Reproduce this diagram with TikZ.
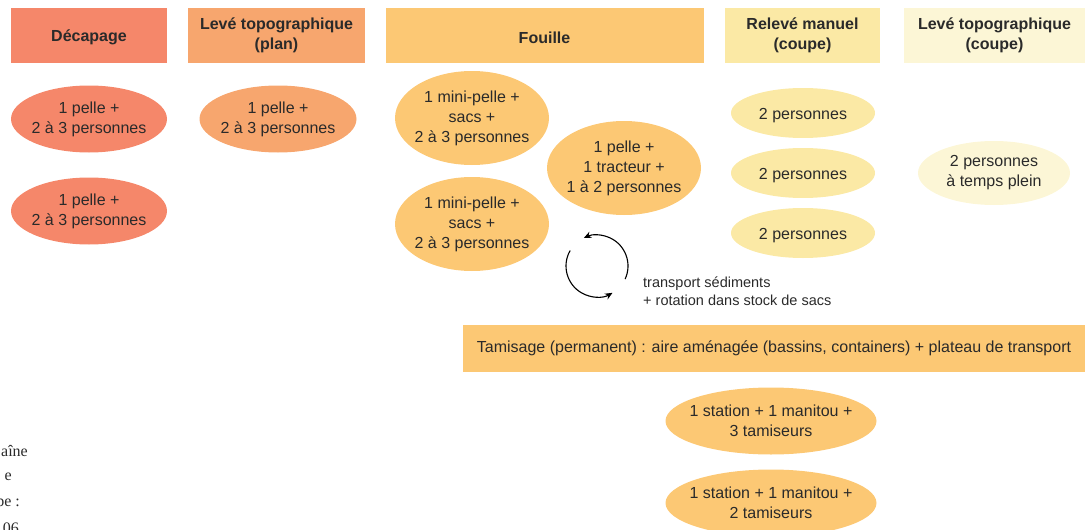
\documentclass[tikz,border=0pt]{standalone}
\usepackage{fontspec}
\setmainfont{Liberation Sans}
\newfontfamily\serifface{Liberation Serif}
\usetikzlibrary{arrows.meta,shapes.geometric}
\definecolor{cDec}{HTML}{F5876A}
\definecolor{cPlan}{HTML}{F7A66E}
\definecolor{cFou}{HTML}{FCC874}
\definecolor{cRel}{HTML}{FBE9A5}
\definecolor{cCou}{HTML}{FCF6D6}
\definecolor{ink}{HTML}{2A2A2A}
\tikzset{
  lower/.style={execute at begin node={\rule{0pt}{16pt}}},
  hdr/.style={rectangle, inner sep=0pt, align=center, text=ink, lower,
    font=\fontsize{16}{20}\selectfont\bfseries, minimum height=55pt},
  ell/.style={ellipse, inner xsep=-30pt, inner ysep=-15pt, align=center, text=ink, lower,
    font=\fontsize{16}{20}\selectfont},
  bar/.style={rectangle, inner sep=0pt, text=ink, font=\fontsize{16}{20}\selectfont},
  note/.style={align=left, inner sep=0pt, text=ink, font=\fontsize{14.5}{18}\selectfont},
  frag/.style={inner sep=0pt, text=ink, font=\serifface\fontsize{16}{20}\selectfont},
  cyc/.style={line width=1.1pt, draw=black, -{Stealth[length=7.5pt,width=6.5pt]}}
}
\begin{document}
\begin{tikzpicture}[x=1pt,y=-1pt]
\useasboundingbox (0,0) rectangle (1085,530);
% headers
\node[hdr, fill=cDec, minimum width=156pt] (hDec) at (89,35.5) {Décapage};
\node[hdr, fill=cPlan, minimum width=177pt] (hPlan) at (276.5,35.5) {Levé topographique\\(plan)};
\node[hdr, fill=cFou, minimum width=318pt] (hFou) at (544.5,35.5) {Fouille};
\node[hdr, fill=cRel, minimum width=155pt] (hRel) at (802.5,35.5) {Relevé manuel\\(coupe)};
\node[hdr, fill=cCou, minimum width=181pt] (hCou) at (994.5,35.5) {Levé topographique\\(coupe)};
% Décapage
\node[ell, fill=cDec, minimum width=156pt, minimum height=67pt] (d1) at (89,119) {1 pelle +\\2 à 3 personnes};
\node[ell, fill=cDec, minimum width=156pt, minimum height=67pt] (d2) at (89,211) {1 pelle +\\2 à 3 personnes};
% plan
\node[ell, fill=cPlan, minimum width=157pt, minimum height=67pt] (p1) at (278,119) {1 pelle +\\2 à 3 personnes};
% Fouille
\node[ell, fill=cFou, minimum width=154pt, minimum height=94pt] (f1) at (472,118) {1 mini-pelle +\\sacs +\\2 à 3 personnes};
\node[ell, fill=cFou, minimum width=154pt, minimum height=94pt] (f2) at (472,224) {1 mini-pelle +\\sacs +\\2 à 3 personnes};
\node[ell, fill=cFou, minimum width=154pt, minimum height=94pt] (f3) at (624,168) {1 pelle +\\1 tracteur +\\1 à 2 personnes};
% Relevé manuel
\node[ell, fill=cRel, minimum width=144pt, minimum height=50pt] (r1) at (803,113) {2 personnes};
\node[ell, fill=cRel, minimum width=144pt, minimum height=50pt] (r2) at (803,173) {2 personnes};
\node[ell, fill=cRel, minimum width=144pt, minimum height=50pt] (r3) at (803,233) {2 personnes};
% Levé coupe
\node[ell, fill=cCou, minimum width=152pt, minimum height=64pt] (c1) at (994,173) {2 personnes\\à temps plein};
% rotation symbol
\coordinate (cy) at (597,266);
\draw[cyc] ([shift={(25:31)}]cy) arc[start angle=25, end angle=-115, radius=31];
\draw[cyc] ([shift={(-150:31)}]cy) arc[start angle=-150, end angle=-300, radius=31];
\node[note, anchor=west] (lbl) at (643,291) {transport sédiments\\+ rotation dans stock de sacs};
% Tamisage
\node[bar, fill=cFou, minimum width=622pt, minimum height=47pt] (tam) at (774,348.5) {Tamisage (permanent) : aire aménagée (bassins, containers) + plateau de transport};
\node[ell, fill=cFou, minimum width=211pt, minimum height=67pt] (t1) at (771,421) {1 station + 1 manitou +\\3 tamiseurs};
\node[ell, fill=cFou, minimum width=211pt, minimum height=67pt] (t2) at (771,503) {1 station + 1 manitou +\\2 tamiseurs};
% cut caption fragments at left edge
\node[frag, anchor=base east] (g1) at (28,456) {aîne};
\node[frag, anchor=base east] (g2) at (12,480) {e};
\node[frag, anchor=base east] (g3) at (20,506) {pe :};
\node[frag, anchor=base east] (g4) at (19,533) {06};
\end{tikzpicture}
\end{document}
